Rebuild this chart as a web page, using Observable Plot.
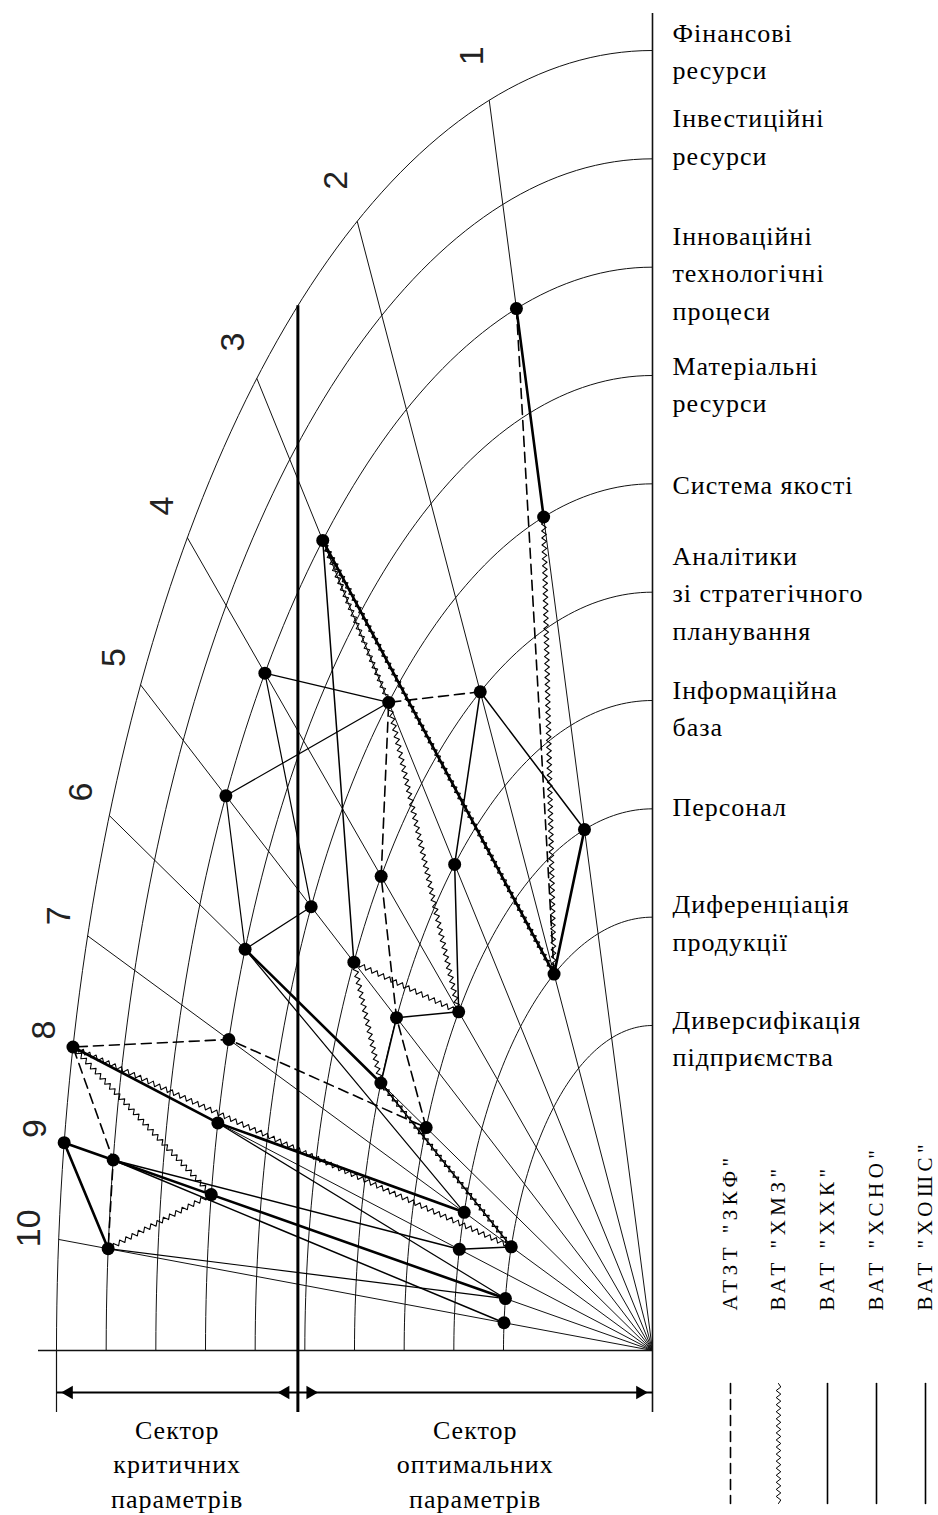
<!DOCTYPE html>
<html><head><meta charset="utf-8">
<script src="https://cdn.jsdelivr.net/npm/d3@7"></script>
<script src="https://cdn.jsdelivr.net/npm/@observablehq/plot@0.6"></script>
<style>
body{margin:0;background:#fff}
.lbl text{letter-spacing:1px}
.sec text{letter-spacing:1px}
.leg text{letter-spacing:4.5px}
</style></head><body><div id="chart"></div>
<script>
// ---------------- data ----------------
const rayNumbers = ["1","2","3","4","5","6","7","8","9","10"];
const rayAngles  = [15.9, 29.7, 41.6, 51.3, 59.2, 65.7, 71.4, 76.5, 80.8, 85.1]; // degrees from vertical
const arcNames = ["Фінансові\nресурси", "Інвестиційні\nресурси", "Інноваційні\nтехнологічні\nпроцеси",
  "Матеріальні\nресурси", "Система якості", "Аналітики\nзі стратегічного\nпланування",
  "Інформаційна\nбаза", "Персонал", "Диференціація\nпродукції", "Диверсифікація\nпідприємства"];
const arcRadii = [12, 11, 10, 9, 8, 7, 6, 5, 4, 3];
const companies = ['АТЗТ "ЗКФ"', 'ВАТ "ХМЗ"', 'ВАТ "ХХК"', 'ВАТ "ХСНО"', 'ВАТ "ХОШС"'];
// company profiles: [ray number, arc number] pairs
const pathsZKF  = [[[1,3],[2,9]], [[2,6],[3,5],[4,6],[5,7],[6,8],[7,4],[8,1],[9,2],[10,2]]];
const pathsXMZ  = [[[1,5],[2,9],[3,3],[3,5],[4,8],[5,6],[6,7],[7,10],[8,1],[9,4],[10,2]]];
const pathsXXK  = [[[1,3],[1,5]], [[1,8],[2,9],[3,3]], [[6,4],[6,7]], [[7,9],[8,4],[8,1]], [[10,2],[9,1],[9,2],[9,4],[9,10]]];
const pathsXSNO = [[[1,8],[2,6],[3,7],[4,8],[5,7],[6,7],[7,10],[8,9],[9,2],[10,10]], [[3,3],[5,6]]];
const pathsXOSHS= [[[3,5],[4,3],[5,5],[6,4],[7,9],[8,4],[9,10],[10,2]], [[3,5],[5,3],[6,4]]];
const sectorBorder = 7.14;
const sectorLabels = ["Сектор\nкритичних\nпараметрів", "Сектор\nоптимальних\nпараметрів"];

// ---------------- layout ----------------
const W = 938, H = 1515;
const X0 = 652, XL = 56, Y0 = 1350, YT = 50;
const kx = (X0 - XL) / 12, ky = (Y0 - YT) / 12;
const X = px => (X0 - px) / kx;
const Y = py => (Y0 - py) / ky;
const labelShift = [-2, -25, 3, 6, -2, -2, 5, -5, 3, 10];
const legendX = [730, 778, 827, 876, 925];

function zigzag(amp, step) {
  return function(context) {
    let x0, y0, first = true, ph = 1;
    return {
      areaStart(){}, areaEnd(){},
      lineStart(){ first = true; },
      lineEnd(){},
      point(x, y) {
        x = +x; y = +y;
        if (first) { context.moveTo(x, y); first = false; }
        else {
          const dx = x - x0, dy = y - y0, len = Math.hypot(dx, dy) || 1;
          const n = Math.max(2, Math.round(len / step));
          const nx = -dy / len, ny = dx / len;
          for (let i = 1; i < n; i++) {
            const t = i / n; ph = -ph;
            context.lineTo(x0 + dx * t + nx * amp * ph, y0 + dy * t + ny * amp * ph);
          }
          context.lineTo(x, y);
        }
        x0 = x; y0 = y;
      }
    };
  };
}

const pt = (ray, arc) => {
  const t = rayAngles[ray - 1] * Math.PI / 180, R = arcRadii[arc - 1];
  return {x: R * Math.sin(t), y: R * Math.cos(t)};
};

const allPaths = [pathsZKF, pathsXMZ, pathsXXK, pathsXSNO, pathsXOSHS];
const styles = [
  {strokeWidth: 1.6, strokeDasharray: "10,6"},
  {strokeWidth: 1.1, curve: zigzag(2.3, 3.5)},
  {strokeWidth: 2.6},
  {strokeWidth: 1.5},
  {strokeWidth: 1.2}
];

const rows = [];
allPaths.forEach((paths, ci) => paths.forEach((p, pi) => p.forEach(([r, a]) =>
  rows.push({company: companies[ci], seg: ci + "-" + pi, ray: r, arc: a, ...pt(r, a)}))));
const dotKeys = new Set();
const dots = rows.filter(d => { const k = d.ray + "-" + d.arc; if (dotKeys.has(k)) return false; dotKeys.add(k); return true; });

const arcPts = [];
arcRadii.forEach(R => { for (let deg = 0; deg <= 90; deg += 1) {
  const t = deg * Math.PI / 180; arcPts.push({R, x: R * Math.sin(t), y: R * Math.cos(t)}); } });
const rayData = rayNumbers.map((n, i) => {
  const t = rayAngles[i] * Math.PI / 180;
  return {n, x: 12 * Math.sin(t), y: 12 * Math.cos(t), lx: 12.35 * Math.sin(t), ly: 12.35 * Math.cos(t)};
});
const labelData = arcNames.map((n, i) => ({n, y: arcRadii[i] - labelShift[i] / ky}));
const borderTop = Math.sqrt(144 - sectorBorder * sectorBorder);
const yArrow = Y(1392), yLow = Y(1412);

const legendMarks = [];
companies.forEach((c, i) => {
  const lx = X(legendX[i]);
  legendMarks.push(Plot.line([{x: lx, y: Y(1383)}, {x: lx, y: Y(1503)}], {x: "x", y: "y", stroke: "#000", ...styles[i],
    strokeWidth: i === 1 ? 1 : 1.6}));
});

const chart = Plot.plot({
  width: W, height: H,
  marginTop: 0, marginBottom: 0, marginLeft: 0, marginRight: 0,
  x: {domain: [0, 12], range: [X0, XL], axis: null},
  y: {domain: [0, 12], range: [Y0, YT], axis: null},
  style: {background: "#fff"},
  marks: [
    Plot.line(arcPts, {x: "x", y: "y", z: "R", stroke: "#111", strokeWidth: 1}),
    Plot.link(rayData, {x1: 0, y1: 0, x2: "x", y2: "y", stroke: "#111", strokeWidth: 1}),
    Plot.ruleX([0], {y1: yLow, y2: Y(13), stroke: "#111", strokeWidth: 1.6}),
    Plot.ruleX([12], {y1: yLow, y2: 0, stroke: "#111", strokeWidth: 1.2}),
    Plot.ruleY([0], {x1: X(38), x2: 0, stroke: "#111", strokeWidth: 1.6}),
    Plot.ruleX([sectorBorder], {y1: yLow, y2: borderTop, stroke: "#000", strokeWidth: 3}),
    // sector arrows
    Plot.link([{a: 12, b: sectorBorder}, {a: sectorBorder, b: 0}], {x1: "a", x2: "b", y1: yArrow, y2: yArrow, stroke: "#000", strokeWidth: 2}),
    Plot.dot([12 - 0.25, sectorBorder + 0.25], {x: d => d, y: yArrow, symbol: "triangle", r: 5, fill: "#000", rotate: -90}),
    Plot.dot([sectorBorder - 0.25, 0.25], {x: d => d, y: yArrow, symbol: "triangle", r: 5, fill: "#000", rotate: 90}),
    Plot.text(sectorLabels, {x: (d, i) => i === 0 ? (12 + sectorBorder) / 2 : sectorBorder / 2, y: Y(1462), text: d => d,
      fontSize: 26, fontFamily: "Liberation Serif", lineHeight: 1.32, fill: "#000", className: "sec"}),
    // company profiles
    ...companies.map((c, ci) => Plot.line(rows.filter(d => d.company === c), {x: "x", y: "y", z: "seg", stroke: "#000", ...styles[ci]})),
    Plot.dot(dots, {x: "x", y: "y", r: 6.5, fill: "#000"}),
    // ray numbers
    Plot.text(rayData, {x: "lx", y: "ly", text: "n", rotate: -90, dx: -12, dy: -8, fontSize: 34, fontFamily: "Liberation Sans", fill: "#222"}),
    // arc labels
    Plot.text(labelData, {x: 0, y: "y", text: "n", dx: 20, textAnchor: "start", fontSize: 26, lineHeight: 1.44,
      fontFamily: "Liberation Serif", fill: "#000", className: "lbl"}),
    // legend
    Plot.text(companies, {x: (d, i) => X(legendX[i]), y: Y(1310), text: d => d, rotate: -90, textAnchor: "start",
      fontSize: 21, fontFamily: "Liberation Serif", fill: "#000", className: "leg"}),
    ...legendMarks
  ]
});
document.getElementById("chart").append(chart);
</script></body></html>
